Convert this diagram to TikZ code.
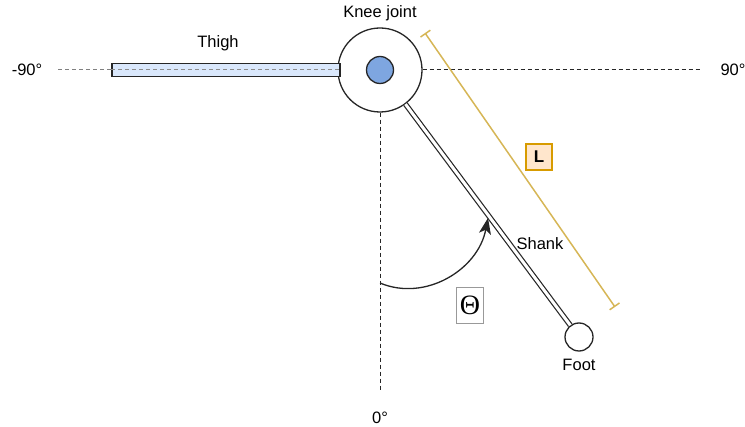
\documentclass[tikz,border=0pt]{standalone}
\usepackage{fontspec}
\setmainfont{Liberation Sans}
\newfontfamily\thetafont{Liberation Serif}
\usetikzlibrary{arrows.meta,positioning}
\definecolor{thighblue}{HTML}{DAE8FC}
\definecolor{pinblue}{HTML}{7EA6E0}
\definecolor{lengthgold}{HTML}{D6B656}
\definecolor{boxorange}{HTML}{FFE6CC}
\definecolor{boxedge}{HTML}{D79B00}
\begin{document}
\begin{tikzpicture}[
    x=1pt,y=-1pt,
    lbl/.style={font=\fontsize{16.5}{19}\selectfont, inner sep=0pt},
    guide/.style={line width=1pt, dash pattern=on 4pt off 3pt},
    part/.style={draw=black!85, line width=1.3pt}
    ]
    \useasboundingbox (0,0) rectangle (745,427);
    \node[part, circle, fill=white, minimum size=84pt, inner sep=0pt] (knee) at (380,70) {};
    \node[part, circle, fill=pinblue, minimum size=27pt, inner sep=0pt] (pin) at (380,70) {};
    \node[part, rectangle, fill=thighblue, minimum width=228pt, minimum height=13pt, inner sep=0pt] (thigh) at (226,70) {};
    \node[part, circle, fill=white, minimum size=28pt, inner sep=0pt] (foot) at (579,337) {};
    \coordinate (leftend) at (58,70);
    \coordinate (rightend) at (702,70);
    \coordinate (zeroend) at (380,390);
    \coordinate (Ltop) at (425,33);
    \coordinate (Lbot) at (615,307);
    \coordinate (arcstart) at (380,283);
    \coordinate (arcend) at (488,218);
    \draw[guide, black!50] (leftend) -- (thigh.west);
    \draw[guide, black!45] (thigh.west) -- (thigh.east);
    \draw[guide, black!85] (knee.east) -- (rightend);
    \draw[guide, black!85] (knee.south) -- (zeroend);
    \draw[black!85, line width=1.2pt, double=white, double distance=3pt] (knee) -- (foot);
    \draw[lengthgold, line width=1.5pt, {Bar[width=12pt]}-{Bar[width=12pt]}] (Ltop) -- (Lbot);
    \draw[black!85, line width=1.3pt, -{Stealth[length=16pt, width=12pt, inset=4pt]}] (arcstart) .. controls (425,302) and (478,270) .. (arcend);
    \node[lbl] (kneelbl) at (380,13) {Knee joint};
    \node[lbl] (thighlbl) at (218,43) {Thigh};
    \node[lbl] (shanklbl) at (540,244) {Shank};
    \node[lbl, below=7pt of foot] (footlbl) {Foot};
    \node[lbl] (leftlbl) at (27,70) {-90°};
    \node[lbl] (rightlbl) at (733,70) {90°};
    \node[lbl] (zerolbl) at (380,418) {0°};
    \node[draw=boxedge, fill=boxorange, line width=1.2pt, minimum size=26pt, inner sep=0pt, font=\fontsize{17}{19}\selectfont\bfseries] (Lbox) at (539,157) {L};
    \node[draw=black!40, line width=0.9pt, minimum width=27pt, minimum height=36pt, inner sep=0pt, font=\fontsize{28}{30}\selectfont\thetafont] (thetabox) at (470,305) {Θ};
\end{tikzpicture}
\end{document}
